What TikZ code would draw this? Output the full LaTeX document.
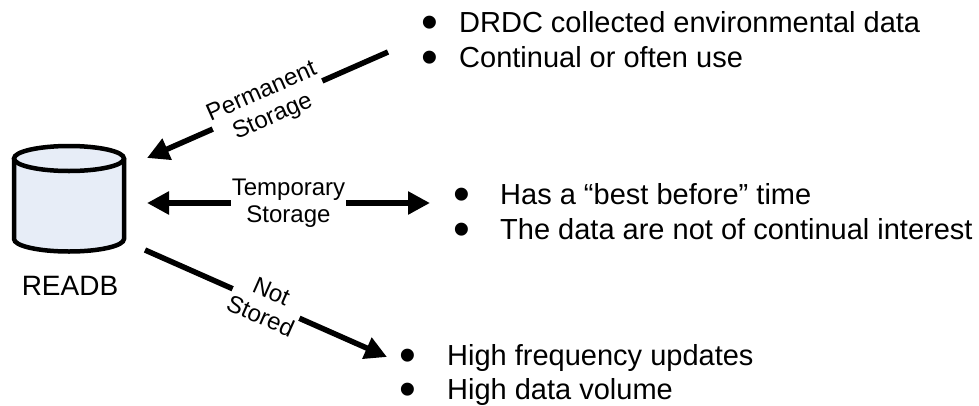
\documentclass[tikz,border=0pt]{standalone}
\usepackage{fontspec}
\setmainfont{Liberation Sans}
\usetikzlibrary{arrows.meta}
\definecolor{dbfill}{RGB}{231,237,247}
\newcommand{\bigbul}{\raisebox{-6.5pt}[\height][0pt]{\scalebox{1.65}{•}}}
\tikzset{
  arrowline/.style={line width=5.5pt, -{Triangle[length=22pt,width=22pt]}},
  dblarrow/.style={line width=5.5pt, {Triangle[length=22pt,width=22pt]}-{Triangle[length=22pt,width=22pt]}},
  lbl/.style={font=\fontsize{24}{27}\selectfont, align=center, fill=white, inner sep=1pt, sloped},
  txt/.style={font=\fontsize{29}{35}\selectfont, anchor=base west, inner sep=0pt},
  bul/.style={font=\fontsize{29}{35}\selectfont, anchor=base, inner sep=0pt},
}
\begin{document}
\begin{tikzpicture}[x=1pt,y=1pt]
\useasboundingbox (0,0) rectangle (979,-405);
% database cylinder
\path[fill=dbfill] (14,-158.5) -- (14,-239) arc[start angle=180,end angle=360,x radius=55,y radius=12.5]
  -- (124,-158.5) arc[start angle=0,end angle=180,x radius=55,y radius=12.5] -- cycle;
\draw[line width=4.5pt] (14,-158.5) -- (14,-239) arc[start angle=180,end angle=360,x radius=55,y radius=12.5] -- (124,-158.5);
\draw[line width=4.5pt] (69,-158.5) ellipse[x radius=55,y radius=12.5];
\node[inner sep=0pt, minimum width=110pt, minimum height=107pt] (db) at (69,-199) {};
\node[font=\fontsize{28}{32}\selectfont, anchor=base, inner sep=0pt] (dblabel) at (70,-295) {READB};
% arrow end points
\coordinate (p1s) at (388,-52);
\coordinate (p1e) at (147,-158);
\coordinate (t1s) at (147,-203);
\coordinate (t1e) at (430,-203);
\coordinate (n1s) at (145,-250);
\coordinate (n1e) at (387,-357);
% bullet groups
\node[bul] (b1) at (430,-32) {\bigbul};
\node[txt] (s1) at (459,-32) {DRDC collected environmental data};
\node[bul] (b2) at (430,-67) {\bigbul};
\node[txt] (s2) at (459,-67) {Continual or often use};
\node[bul] (b3) at (462,-204) {\bigbul};
\node[txt] (s3) at (500,-204) {Has a “best before” time};
\node[bul] (b4) at (462,-239) {\bigbul};
\node[txt] (s4) at (500,-239) {The data are not of continual interest};
\node[bul] (b5) at (408,-365) {\bigbul};
\node[txt] (s5) at (447,-365) {High frequency updates};
\node[bul] (b6) at (408,-399) {\bigbul};
\node[txt] (s6) at (447,-399) {High data volume};
% arrows
\draw[arrowline] (p1s) -- node[lbl] {Permanent\\Storage} (p1e);
\draw[dblarrow] (t1s) -- node[lbl] {Temporary\\Storage} (t1e);
\draw[arrowline] (n1s) -- node[lbl] {Not\\Stored} (n1e);
\end{tikzpicture}
\end{document}
